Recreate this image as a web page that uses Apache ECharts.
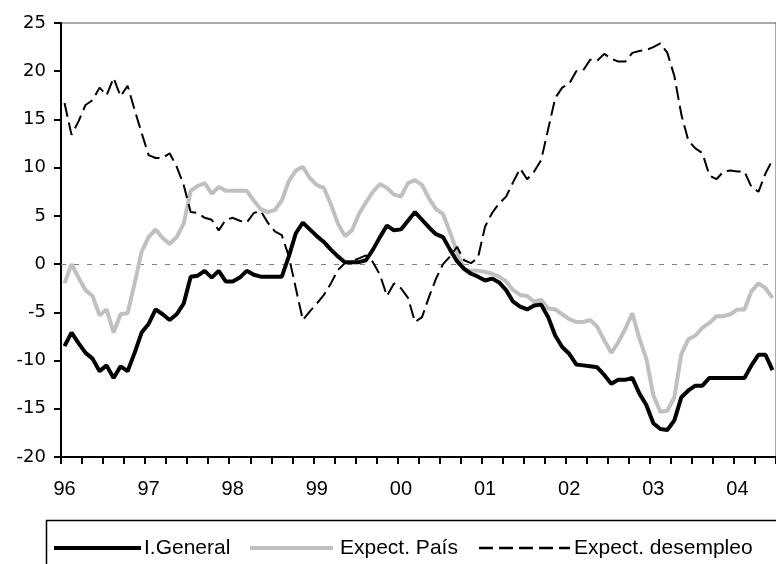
<!DOCTYPE html>
<html>
<head>
<meta charset="utf-8">
<script src="https://cdn.jsdelivr.net/npm/echarts@6/dist/echarts.min.js"></script>
<style>
  html, body { margin: 0; padding: 0; background: #fff; }
  #chart { width: 776px; height: 564px; }
</style>
</head>
<body>
<div id="chart"></div>
<script>
// year labels of the x axis, one per 12 months (Jan 1996 .. Jun 2004)
var yearLabels = ['96', '97', '98', '99', '00', '01', '02', '03', '04'];
var nMonths = 102;

var iGeneral = [
  -8.5, -7.1, -8.2, -9.2, -9.8, -11.1, -10.5, -11.8, -10.6, -11.1, -9.2, -7.1,
  -6.2, -4.7, -5.2, -5.8, -5.2, -4.1, -1.3, -1.2, -0.7, -1.4, -0.7, -1.8,
  -1.8, -1.4, -0.7, -1.1, -1.3, -1.3, -1.3, -1.3, 0.8, 3.2, 4.3, 3.6,
  2.9, 2.3, 1.5, 0.8, 0.2, 0.2, 0.2, 0.4, 1.5, 2.8, 4.0, 3.5,
  3.6, 4.5, 5.4, 4.6, 3.8, 3.1, 2.8, 1.5, 0.3, -0.5, -1.0, -1.3,
  -1.7, -1.5, -1.9, -2.7, -3.9, -4.4, -4.7, -4.3, -4.2, -5.5, -7.4, -8.6,
  -9.3, -10.4, -10.5, -10.6, -10.7, -11.5, -12.4, -12.0, -12.0, -11.8, -13.4, -14.6,
  -16.5, -17.1, -17.2, -16.2, -13.8, -13.1, -12.6, -12.6, -11.8, -11.8, -11.8, -11.8,
  -11.8, -11.8, -10.5, -9.4, -9.4, -11.0
];

var expectPais = [
  -2.0, 0.0, -1.4, -2.7, -3.3, -5.3, -4.7, -7.1, -5.2, -5.1, -2.0, 1.3,
  2.8, 3.6, 2.7, 2.1, 2.8, 4.2, 7.6, 8.1, 8.4, 7.3, 8.0, 7.6,
  7.6, 7.6, 7.6, 6.6, 5.7, 5.4, 5.6, 6.6, 8.6, 9.7, 10.1, 8.9,
  8.2, 7.9, 6.2, 4.2, 2.9, 3.5, 5.2, 6.4, 7.5, 8.3, 7.9, 7.2,
  7.0, 8.4, 8.7, 8.2, 6.8, 5.7, 5.2, 3.3, 1.2, -0.5, -0.7, -0.7,
  -0.8, -1.0, -1.3, -1.8, -2.7, -3.2, -3.3, -3.9, -3.7, -4.6, -4.7, -5.2,
  -5.7, -6.0, -6.0, -5.8, -6.5, -7.9, -9.2, -8.1, -6.7, -5.1, -7.7, -9.8,
  -13.6, -15.3, -15.2, -13.8, -9.3, -7.8, -7.4, -6.6, -6.1, -5.4, -5.4, -5.2,
  -4.7, -4.7, -2.8, -2.0, -2.5, -3.5
];

var expectDesempleo = [
  16.7, 13.4, 14.8, 16.5, 17.0, 18.3, 17.5, 19.3, 17.4, 18.5, 16.0, 13.6,
  11.3, 11.0, 11.0, 11.5, 10.1, 8.2, 5.4, 5.3, 4.8, 4.6, 3.5, 4.6,
  4.8, 4.5, 4.3, 5.3, 5.5, 4.3, 3.4, 3.0, 0.8, -2.5, -5.8, -4.9,
  -4.1, -3.2, -2.0, -0.6, 0.1, 0.3, 0.6, 0.9, 0.2, -1.1, -3.3, -2.0,
  -2.5, -3.5, -6.0, -5.5, -3.4, -1.5, 0.0, 0.8, 1.8, 0.4, 0.1, 0.7,
  3.9, 5.3, 6.3, 7.0, 8.5, 9.9, 8.8, 9.6, 10.8, 14.0, 17.2, 18.3,
  18.7, 20.0, 20.1, 21.2, 21.1, 21.8, 21.3, 21.0, 21.0, 21.9, 22.1, 22.2,
  22.5, 22.9, 21.9, 19.5, 15.5, 12.8, 12.0, 11.5, 9.2, 8.8, 9.6, 9.7,
  9.6, 9.6, 8.0, 7.5, 9.4, 10.8
];

var months = [];
for (var y = 0; y < yearLabels.length; y++) {
  for (var m = 1; m <= 12; m++) {
    if (months.length < nMonths) months.push(yearLabels[y] + '-' + (m < 10 ? '0' + m : m));
  }
}

var chart = echarts.init(document.getElementById('chart'), null, { renderer: 'canvas' });

var option = {
  animation: false,
  backgroundColor: '#fff',
  grid: {
    left: 61,
    top: 23,
    width: 716,
    height: 434,
    show: true,
    borderColor: '#555',
    borderWidth: 1,
    backgroundColor: 'transparent'
  },
  xAxis: {
    type: 'category',
    data: months,
    boundaryGap: true,
    axisLine: { onZero: false, lineStyle: { color: '#000', width: 2 } },
    axisTick: { show: true, interval: 2, length: 7, lineStyle: { color: '#000', width: 2 } },
    axisLabel: {
      interval: 11,
      margin: 22,
      color: '#000',
      fontFamily: 'Liberation Sans',
      fontSize: 20,
      formatter: function (v) { return v.split('-')[0]; }
    },
    splitLine: { show: false }
  },
  yAxis: {
    type: 'value',
    min: -20,
    max: 25,
    interval: 5,
    axisLine: { show: true, lineStyle: { color: '#000', width: 2 } },
    axisTick: { show: true, length: 7, lineStyle: { color: '#000', width: 2 } },
    axisLabel: {
      margin: 15,
      color: '#000',
      fontFamily: 'DejaVu Sans',
      fontSize: 18
    },
    splitLine: { show: false }
  },
  series: [
    {
      name: 'I.General',
      type: 'line',
      data: iGeneral,
      symbol: 'none',
      z: 3,
      lineStyle: { color: '#000', width: 4 },
      markLine: {
        silent: true,
        symbol: 'none',
        label: { show: false },
        z: 1,
        lineStyle: { color: '#808080', width: 1, type: [5, 8] },
        data: [{ yAxis: 0 }]
      }
    },
    {
      name: 'Expect. País',
      type: 'line',
      data: expectPais,
      symbol: 'none',
      z: 2,
      lineStyle: { color: '#c0c0c0', width: 4 }
    },
    {
      name: 'Expect. desempleo',
      type: 'line',
      data: expectDesempleo,
      symbol: 'none',
      z: 4,
      lineStyle: { color: '#000', width: 2, type: [14, 6] }
    }
  ],
  graphic: [
    { type: 'rect', shape: { x: 46.5, y: 520.5, width: 800, height: 100 }, style: { fill: '#fff', stroke: '#000', lineWidth: 1.5 }, z: 1 },
    { type: 'line', shape: { x1: 54, y1: 548, x2: 141, y2: 548 }, style: { stroke: '#000', lineWidth: 4 }, z: 2 },
    { type: 'text', x: 144, y: 548, style: { text: 'I.General', fill: '#000', font: '21px "Liberation Sans"', textVerticalAlign: 'middle' }, z: 2 },
    { type: 'line', shape: { x1: 250, y1: 548, x2: 333, y2: 548 }, style: { stroke: '#c0c0c0', lineWidth: 4 }, z: 2 },
    { type: 'text', x: 340, y: 548, style: { text: 'Expect. País', fill: '#000', font: '21px "Liberation Sans"', textVerticalAlign: 'middle' }, z: 2 },
    { type: 'line', shape: { x1: 479, y1: 548, x2: 570, y2: 548 }, style: { stroke: '#000', lineWidth: 2.5, lineDash: [14, 6] }, z: 2 },
    { type: 'text', x: 574, y: 548, style: { text: 'Expect. desempleo', fill: '#000', font: '21px "Liberation Sans"', textVerticalAlign: 'middle' }, z: 2 }
  ]
};

chart.setOption(option);
</script>
</body>
</html>
